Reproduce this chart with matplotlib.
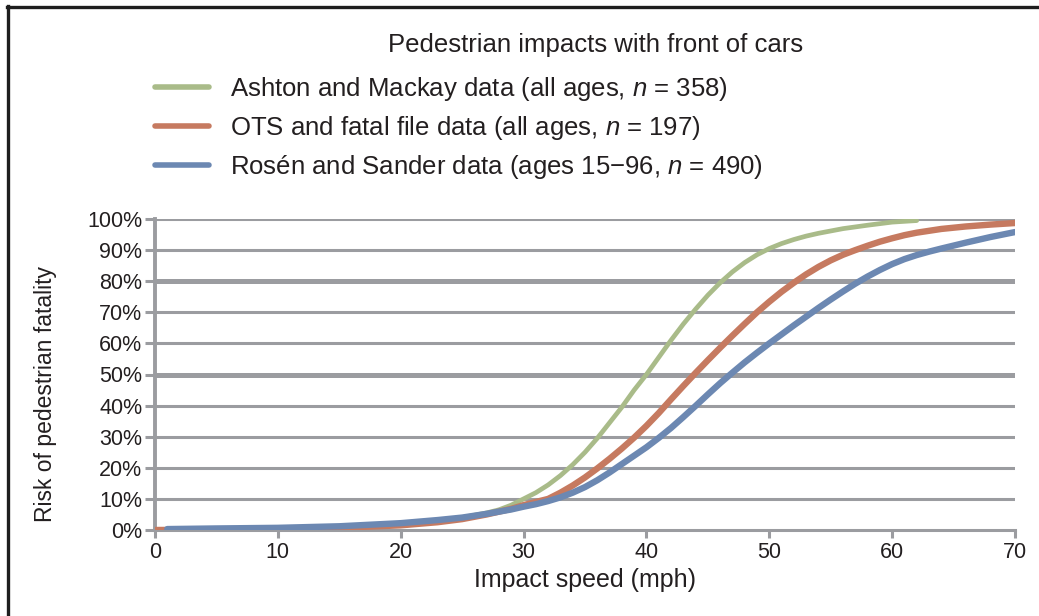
import matplotlib
matplotlib.use("Agg")
import matplotlib.pyplot as plt
from matplotlib.lines import Line2D

plt.rcParams['font.family'] = ['Liberation Sans', 'DejaVu Sans']
plt.rcParams['mathtext.fontset'] = 'custom'
plt.rcParams['mathtext.rm'] = 'Liberation Sans'
plt.rcParams['mathtext.it'] = 'Liberation Sans:italic'

# ---- data ----
title = "Pedestrian impacts with front of cars"
labels = ["Ashton and Mackay data (all ages, $n$ = 358)",
          "OTS and fatal file data (all ages, $n$ = 197)",
          "Rosén and Sander data (ages 15\u221296, $n$ = 490)"]

speed_am = [0, 5, 10, 15, 20, 23, 25, 27, 28, 29, 30, 31, 32, 33, 34, 35, 36, 37, 38,
            39, 40, 41, 42, 43, 44, 45, 46, 47, 48, 49, 50, 51, 52, 53, 54, 56, 58, 60, 62]
risk_am = [0, 0.3, 0.6, 1.0, 2.0, 3.0, 4.0, 5.5, 6.5, 8, 10, 12, 14.5, 17.5, 21, 25, 29.5,
           34.5, 39.5, 45, 50, 55.5, 61, 66.2, 71, 75.5, 79.5, 83, 86, 88.5, 90.5, 92.1,
           93.4, 94.5, 95.4, 96.9, 98, 99, 99.5]

speed_ots = [0, 5, 10, 15, 20, 23, 25, 27, 29, 30, 31, 32, 33, 34, 35, 36, 37, 38, 39, 40,
             41, 42, 43, 44, 45, 46, 47, 48, 49, 50, 51, 52, 53, 54, 55, 56, 57, 58, 59,
             60, 61, 62, 64, 66, 68, 70]
risk_ots = [0, 0.1, 0.3, 0.7, 1.5, 2.5, 3.5, 5, 6.8, 8, 9, 10, 12, 14.3, 16.9, 19.8, 22.9,
            26.2, 29.7, 33.5, 37.6, 42, 46.3, 50.5, 54.6, 58.6, 62.5, 66.3, 70, 73.4, 76.6,
            79.5, 82.2, 84.6, 86.7, 88.5, 90, 91.4, 92.7, 93.8, 94.8, 95.6, 96.8, 97.6,
            98.2, 98.7]

speed_rs = [1, 5, 10, 15, 20, 23, 25, 27, 29, 30, 31, 32, 33, 34, 35, 36, 37, 38, 39, 40,
            41, 42, 43, 44, 45, 46, 47, 48, 49, 50, 51, 52, 53, 54, 55, 56, 57, 58, 59,
            60, 61, 62, 63, 64, 66, 68, 70]
risk_rs = [0.3, 0.5, 0.7, 1.2, 2.2, 3.2, 4, 5.2, 6.6, 7.5, 8.3, 9.3, 10.5, 12, 13.8, 16,
           18.5, 21.2, 23.9, 26.6, 29.6, 32.8, 36.3, 39.9, 43.6, 47.2, 50.6, 53.9, 57, 60,
           62.9, 65.8, 68.6, 71.4, 74.1, 76.7, 79.2, 81.5, 83.6, 85.5, 87.1, 88.4, 89.5,
           90.5, 92.4, 94.2, 95.8]

x_ticks = [0, 10, 20, 30, 40, 50, 60, 70]
y_ticks = [0, 10, 20, 30, 40, 50, 60, 70, 80, 90, 100]
thick_grid = [50, 80]

colors = ["#a9bb89", "#c67a60", "#6c88b2"]
grid_c = "#9b9ca0"
text_c = "#231f20"

W, H = 1039, 616
fig = plt.figure(figsize=(W / 100, H / 100), dpi=100)
ax = fig.add_axes([155 / W, 1 - 530 / H, (1015 - 155) / W, (530 - 219) / H])

# grid lines
for yv in y_ticks[1:]:
    ax.axhline(yv, color=grid_c, lw=3.6 if yv in thick_grid else 2.2, zorder=1)

l1, = ax.plot(speed_am, risk_am, color=colors[0], lw=3.4, solid_capstyle='round',
              solid_joinstyle='round', zorder=3)
l2, = ax.plot(speed_ots, risk_ots, color=colors[1], lw=4.6, solid_capstyle='round',
              solid_joinstyle='round', zorder=4)
l3, = ax.plot(speed_rs, risk_rs, color=colors[2], lw=4.6, solid_capstyle='round',
              solid_joinstyle='round', zorder=5)

ax.set_xlim(0, 70)
ax.set_ylim(0, 100)
ax.set_xticks(x_ticks)
ax.set_yticks(y_ticks)
ax.set_yticklabels([f"{v}%" for v in y_ticks])
for s in ['top', 'right']:
    ax.spines[s].set_visible(False)
ax.spines['left'].set_color(grid_c)
ax.spines['left'].set_linewidth(2.8)
ax.spines['bottom'].set_color(grid_c)
ax.spines['bottom'].set_linewidth(2.2)
ax.tick_params(axis='both', colors=grid_c, width=2.2, labelcolor=text_c, labelsize=15.5)
ax.tick_params(axis='y', length=7, pad=2)
ax.tick_params(axis='x', length=5.5, pad=3)
ax.set_xlabel("Impact speed (mph)", fontsize=18, color=text_c, va='center')
ax.xaxis.set_label_coords(0.5, (530 - 580) / 311)
ax.set_ylabel("Risk of pedestrian fatality", fontsize=16.5, color=text_c, va='center')
ax.yaxis.set_label_coords((46 - 155) / 860, (530 - 394) / 311)
ax.set_facecolor('none')

fig.text(596 / W, 1 - 45 / H, title, ha='center', va='center', fontsize=18.5, color=text_c)

leg = fig.legend([l1, l2, l3], labels, loc='upper left',
                 bbox_to_anchor=(155 / W, 1 - 75 / H), frameon=False,
                 fontsize=18.5, handlelength=2.1, handletextpad=0.82,
                 labelspacing=0.43, borderaxespad=0, borderpad=0)
for t in leg.get_texts():
    t.set_color(text_c)
for h in leg.legend_handles:
    h.set_linewidth(4.0)

# figure border (top and left)
fig.add_artist(Line2D([7 / W, 1], [1 - 6.5 / H, 1 - 6.5 / H], transform=fig.transFigure,
                      color='#1e1e1e', lw=2.4))
fig.add_artist(Line2D([8 / W, 8 / W], [0, 1 - 5.5 / H], transform=fig.transFigure,
                      color='#1e1e1e', lw=2.4))

fig.savefig("out.png", dpi=100)
